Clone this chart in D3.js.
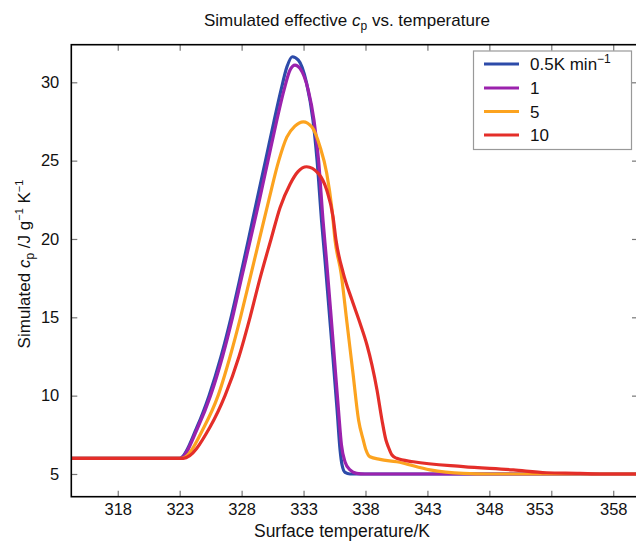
<!DOCTYPE html>
<html><head><meta charset="utf-8">
<script src="https://cdn.jsdelivr.net/npm/d3@7"></script>
<style>body{margin:0;background:#fff}svg{display:block}text{font-family:"Liberation Sans",Arial,sans-serif}</style>
</head><body>
<svg id="c" width="636" height="545"></svg>
<script>
const xTicks = [318,323,328,333,338,343,348,353,358];
const yTicks = [5,10,15,20,25,30];
const seriesNames = ["0.5K min","1","5","10"];
const seriesColors = ["#2d4ba9","#9b22ad","#fca31f","#e42e29"];

const blueT = [314.25,323.0,324.40,325.37,326.34,327.15,327.87,328.56,329.24,329.93,330.61,331.18,331.66,332.09,332.58,333.25,333.76,334.09,334.45,334.73,335.06,335.39,335.71,335.95,336.11,336.35,336.75,360];
const blueV = [6.0,6.0,8.0,10.0,12.5,15.0,17.5,20.0,22.5,25.0,27.5,29.5,30.99,31.63,31.42,29.93,27.59,25.04,21.21,18.66,15.47,12.28,9.08,6.53,5.57,5.1,5.0,5.0];

const purpleT = [314.25,323.03,324.48,325.49,326.46,327.27,327.99,328.72,329.44,330.13,330.82,331.42,331.91,332.31,332.71,333.38,333.84,334.21,334.57,334.85,335.18,335.5,335.82,336.06,336.35,336.75,337.29,337.96,360];
const purpleV = [6.0,6.0,8.0,10.0,12.5,15.0,17.5,20.0,22.5,25.0,27.5,29.5,30.78,31.1,30.89,29.5,27.59,25.04,21.21,18.66,15.47,12.28,9.08,6.85,5.77,5.26,5.04,5.0,5.0];

const orangeT = [314.25,323.17,324.97,326.1,327.07,327.91,328.68,329.44,330.2,331.0,331.65,332.3,332.98,333.66,334.33,334.87,335.3,335.54,336.03,336.51,336.99,337.44,337.82,338.04,338.36,339.17,340.52,343.21,345.89,348.05,360];
const orangeV = [6.0,6.0,8.0,10.0,12.5,15.0,17.5,20.0,22.5,25.0,26.5,27.2,27.48,27.16,25.89,24.19,21.85,19.93,17.81,14.62,11.43,8.45,7.17,6.53,6.10,5.93,5.78,5.26,5.04,5.0,5.0];

const redT = [314.25,323.29,325.45,326.66,327.79,328.68,329.49,330.38,331.1,331.91,332.55,333.25,334.19,334.87,335.38,335.62,336.21,336.91,337.56,338.12,338.52,338.93,339.33,339.65,339.84,340.14,340.52,341.86,345.89,349.93,352.62,355.31,356.93,360];
const redV = [6.0,6.0,8.0,10.0,12.5,15.0,17.5,20.0,22.0,23.5,24.3,24.61,24.19,23.12,21.42,19.93,17.81,16.1,14.62,13.23,11.96,10.36,8.45,7.17,6.74,6.21,6.0,5.78,5.47,5.26,5.08,5.04,5.0,5.0];

const series = [[blueT,blueV],[purpleT,purpleV],[orangeT,orangeV],[redT,redV]];

const L=71.3, R=638, T=44.7, B=496.7;
const x = d3.scaleLinear().domain([314.25,360]).range([L,R]);
const y = d3.scaleLinear().domain([3.55,32.4]).range([B,T]);
const svg = d3.select("#c");
const FONT = "Liberation Sans, Arial, sans-serif";

svg.append("defs").append("clipPath").attr("id","clip").append("rect")
  .attr("x",L).attr("y",T).attr("width",R-L).attr("height",B-T);

const tickColor="#777";
const gx = svg.append("g").attr("transform",`translate(0,${B})`)
  .call(d3.axisBottom(x).tickValues(xTicks).tickSize(-6).tickPadding(7).tickFormat(d3.format("d")));
const gxt = svg.append("g").attr("transform",`translate(0,${T})`)
  .call(d3.axisTop(x).tickValues(xTicks).tickSize(-6).tickFormat(""));
const gy = svg.append("g").attr("transform",`translate(${L},0)`)
  .call(d3.axisLeft(y).tickValues(yTicks).tickSize(-6).tickPadding(12));
const gyr = svg.append("g").attr("transform",`translate(${R},0)`)
  .call(d3.axisRight(y).tickValues(yTicks).tickSize(-6).tickFormat(""));
[gx,gxt,gy,gyr].forEach(g=>{
  g.select(".domain").remove();
  g.selectAll(".tick line").attr("stroke",tickColor).attr("stroke-width",1.2);
  g.selectAll("text").attr("font-size",16.5).attr("fill","#111").attr("font-family",FONT);
});
// the 353 label sits slightly left of its tick in the reference
gx.selectAll(".tick").filter(d=>d===353).select("text").attr("dx",-12);

const line = d3.line().x(d=>x(d[0])).y(d=>y(d[1])).curve(d3.curveMonotoneX);
const plot = svg.append("g").attr("clip-path","url(#clip)");
series.forEach((s,i)=>{
  const pts = s[0].map((t,j)=>[t,s[1][j]]);
  plot.append("path").attr("d",line(pts))
    .attr("fill","none").attr("stroke",seriesColors[i]).attr("stroke-width",3.2)
    .attr("stroke-linejoin","round");
});

svg.append("rect").attr("x",L).attr("y",T).attr("width",R-L).attr("height",B-T)
  .attr("fill","none").attr("stroke","#000").attr("stroke-width",1.6);

// legend
const lg = svg.append("g");
lg.append("rect").attr("x",473.5).attr("y",51).attr("width",158).attr("height",98.5)
  .attr("fill","#fff").attr("stroke","#999").attr("stroke-width",1.2);
const ly = [64,88,111.5,135];
seriesNames.forEach((n,i)=>{
  lg.append("line").attr("x1",484).attr("x2",519).attr("y1",ly[i]).attr("y2",ly[i])
    .attr("stroke",seriesColors[i]).attr("stroke-width",3.2);
  const t = lg.append("text").attr("x",530).attr("y",ly[i]+6).attr("font-size",17).attr("fill","#111");
  t.append("tspan").text(n);
  if(i===0) t.append("tspan").text("\u22121").attr("font-size",12).attr("dy",-7);
});

// title
const tt = svg.append("text").attr("x",347).attr("y",26).attr("text-anchor","middle").attr("font-size",17).attr("fill","#111");
tt.append("tspan").text("Simulated effective ");
tt.append("tspan").text("c").attr("font-style","italic");
tt.append("tspan").text("p").attr("font-size",12).attr("dy",4);
tt.append("tspan").text(" vs. temperature").attr("dy",-4);

// x label
svg.append("text").attr("x",342).attr("y",537).attr("text-anchor","middle").attr("font-size",17.5).attr("fill","#111").text("Surface temperature/K");

// y label
const yl = svg.append("text").attr("transform","translate(30,264) rotate(-90)").attr("text-anchor","middle").attr("font-size",17).attr("fill","#111");
yl.append("tspan").text("Simulated ");
yl.append("tspan").text("c").attr("font-style","italic");
yl.append("tspan").text("p").attr("font-size",12).attr("dy",4);
yl.append("tspan").text(" /J g").attr("dy",-4);
yl.append("tspan").text("\u22121").attr("font-size",11).attr("dy",-7);
yl.append("tspan").text(" K").attr("dy",7);
yl.append("tspan").text("\u22121").attr("font-size",11).attr("dy",-7);
</script>
</body></html>
